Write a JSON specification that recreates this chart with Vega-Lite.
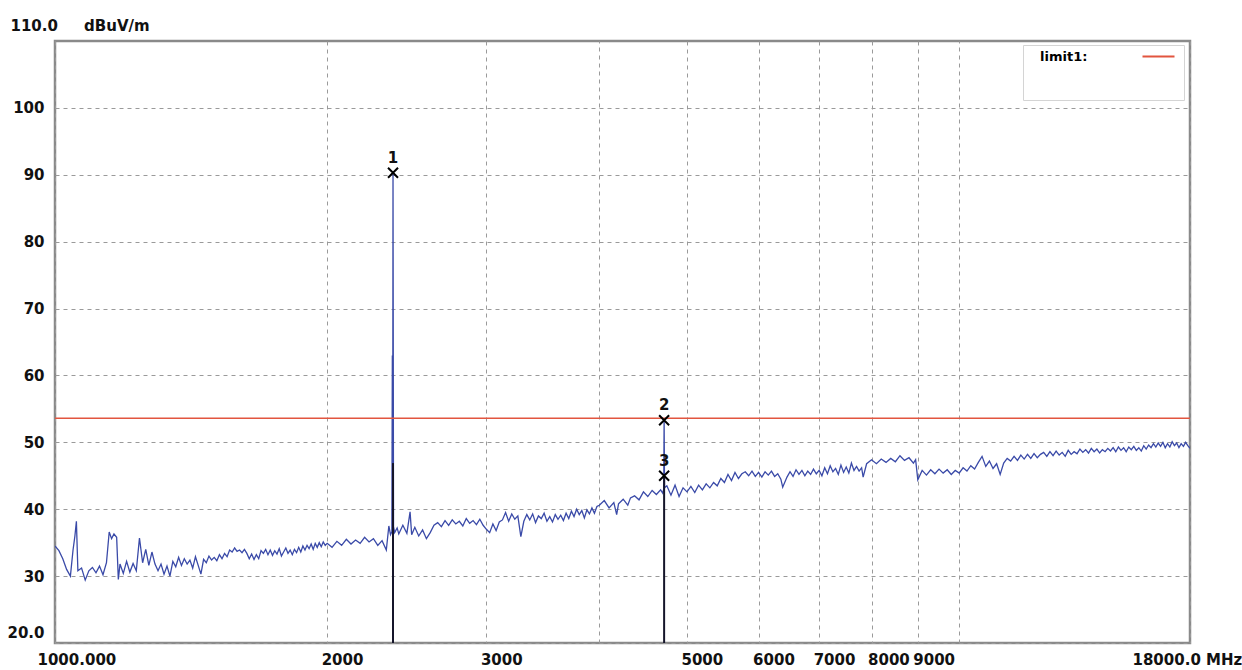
{
  "$schema": "https://vega.github.io/schema/vega-lite/v6.json",
  "width": 1135,
  "height": 602,
  "autosize": {"type": "none"},
  "padding": {"left": 55, "top": 41, "right": 52, "bottom": 27},
  "background": "#ffffff",
  "config": {
    "view": {"stroke": "#8a8a8a", "strokeWidth": 2.5},
    "font": "DejaVu Sans"
  },
  "datasets": {
    "trace": [
      {"f":1000,"v":34.5},{"f":1010,"v":33.8},{"f":1020,"v":32.6},{"f":1030,"v":31.0},{"f":1040,"v":30.0},{"f":1047,"v":33.9},{"f":1052,"v":36.0},{"f":1056,"v":38.2},{"f":1060,"v":30.8},{"f":1070,"v":31.2},{"f":1080,"v":29.4},{"f":1090,"v":30.8},{"f":1100,"v":31.3},
      {"f":1110,"v":30.5},{"f":1120,"v":31.5},{"f":1130,"v":30.2},{"f":1140,"v":32.0},{"f":1148,"v":36.6},{"f":1155,"v":35.6},{"f":1162,"v":36.3},{"f":1170,"v":35.8},{"f":1175,"v":29.5},{"f":1180,"v":31.8},{"f":1190,"v":30.4},{"f":1200,"v":32.2},
      {"f":1210,"v":30.6},{"f":1220,"v":31.9},{"f":1230,"v":30.8},{"f":1240,"v":35.7},{"f":1250,"v":32.0},{"f":1260,"v":34.0},{"f":1270,"v":31.6},{"f":1280,"v":33.6},{"f":1290,"v":31.8},{"f":1300,"v":30.8},
      {"f":1310,"v":31.8},{"f":1320,"v":30.3},{"f":1330,"v":31.5},{"f":1340,"v":30.0},{"f":1350,"v":32.2},{"f":1360,"v":31.4},{"f":1370,"v":32.8},{"f":1380,"v":31.6},{"f":1390,"v":32.6},{"f":1400,"v":31.8},
      {"f":1410,"v":32.4},{"f":1420,"v":31.2},{"f":1430,"v":32.9},{"f":1440,"v":31.6},{"f":1450,"v":30.3},{"f":1460,"v":32.5},{"f":1470,"v":32.0},{"f":1480,"v":33.0},{"f":1490,"v":32.4},{"f":1500,"v":32.8},
      {"f":1510,"v":32.3},{"f":1520,"v":33.2},{"f":1530,"v":32.6},{"f":1540,"v":33.4},{"f":1550,"v":32.9},{"f":1560,"v":33.9},{"f":1570,"v":33.6},{"f":1580,"v":34.2},{"f":1590,"v":33.7},{"f":1600,"v":33.9},
      {"f":1610,"v":33.5},{"f":1620,"v":34.0},{"f":1630,"v":33.4},{"f":1640,"v":32.6},{"f":1650,"v":33.3},{"f":1660,"v":32.5},{"f":1670,"v":33.2},{"f":1680,"v":32.6},{"f":1690,"v":33.8},{"f":1700,"v":33.4},
      {"f":1710,"v":34.0},{"f":1720,"v":33.2},{"f":1730,"v":33.9},{"f":1740,"v":33.1},{"f":1750,"v":33.8},{"f":1760,"v":33.3},{"f":1770,"v":34.1},{"f":1780,"v":33.0},{"f":1790,"v":33.6},{"f":1800,"v":34.2},
      {"f":1810,"v":33.4},{"f":1820,"v":33.9},{"f":1830,"v":33.2},{"f":1840,"v":34.0},{"f":1850,"v":33.5},{"f":1860,"v":34.3},{"f":1870,"v":33.6},{"f":1880,"v":34.5},{"f":1890,"v":33.9},{"f":1900,"v":34.6},
      {"f":1910,"v":34.1},{"f":1920,"v":34.8},{"f":1930,"v":34.0},{"f":1940,"v":34.9},{"f":1950,"v":34.3},{"f":1960,"v":35.0},{"f":1970,"v":34.4},{"f":1980,"v":35.1},{"f":1990,"v":34.6},{"f":2000,"v":34.9},
      {"f":2025,"v":34.3},{"f":2050,"v":35.2},{"f":2075,"v":34.6},{"f":2100,"v":35.5},{"f":2125,"v":34.8},{"f":2150,"v":35.4},{"f":2175,"v":34.9},{"f":2200,"v":35.8},{"f":2225,"v":35.1},{"f":2250,"v":35.6},{"f":2275,"v":34.6},{"f":2300,"v":35.3},{"f":2325,"v":33.9},{"f":2340,"v":37.5},{"f":2350,"v":36.2},
      {"f":2358,"v":36.6},{"f":2361,"v":63.0},{"f":2363,"v":36.9},{"f":2365,"v":90.3},{"f":2368,"v":37.4},{"f":2375,"v":36.5},{"f":2390,"v":37.2},{"f":2400,"v":36.3},{"f":2425,"v":37.6},{"f":2450,"v":36.4},{"f":2470,"v":39.6},{"f":2480,"v":36.2},{"f":2500,"v":37.3},{"f":2525,"v":36.0},{"f":2550,"v":36.9},{"f":2575,"v":35.6},
      {"f":2600,"v":36.5},{"f":2625,"v":37.6},{"f":2650,"v":38.0},{"f":2675,"v":37.4},{"f":2700,"v":38.3},{"f":2725,"v":37.6},{"f":2750,"v":38.4},{"f":2775,"v":37.8},{"f":2800,"v":38.2},{"f":2825,"v":37.5},{"f":2850,"v":38.6},{"f":2875,"v":37.9},{"f":2900,"v":38.3},{"f":2925,"v":37.7},{"f":2950,"v":38.5},{"f":2975,"v":37.6},
      {"f":3000,"v":37.0},{"f":3025,"v":36.5},{"f":3050,"v":37.8},{"f":3075,"v":36.8},{"f":3100,"v":38.1},{"f":3125,"v":38.4},{"f":3150,"v":39.5},{"f":3175,"v":38.2},{"f":3200,"v":39.3},{"f":3225,"v":38.5},{"f":3250,"v":39.0},{"f":3275,"v":35.9},
      {"f":3300,"v":38.2},{"f":3325,"v":39.2},{"f":3350,"v":38.4},{"f":3375,"v":39.3},{"f":3400,"v":38.0},{"f":3425,"v":39.0},{"f":3450,"v":38.6},{"f":3475,"v":39.4},{"f":3500,"v":38.2},{"f":3525,"v":38.9},{"f":3550,"v":38.1},{"f":3575,"v":39.2},{"f":3600,"v":38.5},{"f":3625,"v":39.1},{"f":3650,"v":38.3},
      {"f":3675,"v":39.4},{"f":3700,"v":38.6},{"f":3725,"v":39.7},{"f":3750,"v":38.9},{"f":3775,"v":40.0},{"f":3800,"v":39.2},{"f":3825,"v":39.8},{"f":3850,"v":38.7},{"f":3875,"v":39.9},{"f":3900,"v":39.3},{"f":3925,"v":40.2},{"f":3950,"v":39.4},{"f":3975,"v":40.4},
      {"f":4000,"v":40.6},{"f":4050,"v":41.3},{"f":4100,"v":40.2},{"f":4150,"v":41.0},{"f":4180,"v":39.2},{"f":4200,"v":40.8},{"f":4250,"v":41.5},{"f":4300,"v":40.6},{"f":4330,"v":41.7},{"f":4375,"v":42.0},{"f":4425,"v":41.4},{"f":4475,"v":42.6},{"f":4525,"v":41.9},{"f":4575,"v":42.8},{"f":4625,"v":42.2},{"f":4675,"v":42.9},{"f":4700,"v":42.4},
      {"f":4712,"v":43.0},{"f":4717,"v":53.3},{"f":4722,"v":43.2},{"f":4750,"v":43.5},{"f":4800,"v":42.1},{"f":4850,"v":43.6},{"f":4900,"v":41.9},{"f":4950,"v":43.2},
      {"f":5000,"v":42.6},{"f":5050,"v":43.4},{"f":5100,"v":42.5},{"f":5150,"v":43.6},{"f":5200,"v":42.9},{"f":5250,"v":43.8},{"f":5300,"v":43.2},{"f":5350,"v":44.0},{"f":5400,"v":43.5},
      {"f":5450,"v":44.6},{"f":5500,"v":44.0},{"f":5550,"v":45.2},{"f":5600,"v":44.3},{"f":5650,"v":45.5},{"f":5700,"v":44.6},{"f":5750,"v":45.3},
      {"f":5800,"v":45.6},{"f":5850,"v":45.0},{"f":5900,"v":45.7},{"f":5950,"v":44.9},{"f":6000,"v":45.5},{"f":6050,"v":44.8},{"f":6100,"v":45.6},{"f":6150,"v":45.1},{"f":6200,"v":45.7},{"f":6250,"v":44.9},{"f":6300,"v":45.3},{"f":6350,"v":44.5},{"f":6380,"v":43.3},
      {"f":6450,"v":44.8},{"f":6500,"v":45.6},{"f":6550,"v":44.9},{"f":6600,"v":45.9},{"f":6650,"v":45.2},{"f":6700,"v":45.8},{"f":6750,"v":45.0},{"f":6800,"v":45.7},{"f":6850,"v":45.2},{"f":6900,"v":46.0},{"f":6950,"v":45.3},
      {"f":7000,"v":45.8},{"f":7050,"v":45.0},{"f":7100,"v":46.2},{"f":7150,"v":45.3},{"f":7200,"v":46.5},{"f":7250,"v":45.6},{"f":7300,"v":46.1},{"f":7350,"v":45.2},{"f":7400,"v":46.6},{"f":7450,"v":45.5},{"f":7500,"v":46.3},{"f":7550,"v":45.4},{"f":7600,"v":46.9},{"f":7650,"v":45.8},{"f":7700,"v":46.4},{"f":7750,"v":45.7},{"f":7800,"v":46.2},{"f":7830,"v":44.8},
      {"f":7900,"v":46.8},{"f":8000,"v":47.4},{"f":8100,"v":46.8},{"f":8200,"v":47.5},{"f":8300,"v":47.0},{"f":8400,"v":47.6},{"f":8500,"v":47.1},{"f":8600,"v":48.0},{"f":8700,"v":47.3},{"f":8800,"v":47.7},{"f":8900,"v":46.9},{"f":8950,"v":47.4},{"f":9000,"v":44.4},
      {"f":9100,"v":45.8},{"f":9200,"v":45.1},{"f":9300,"v":45.9},{"f":9400,"v":45.3},{"f":9500,"v":46.0},{"f":9600,"v":45.4},{"f":9700,"v":45.9},{"f":9800,"v":45.2},{"f":9900,"v":45.8},{"f":10000,"v":45.4},
      {"f":10100,"v":46.2},{"f":10200,"v":45.7},{"f":10300,"v":46.5},{"f":10400,"v":46.0},{"f":10500,"v":47.0},{"f":10600,"v":47.9},{"f":10700,"v":46.4},{"f":10800,"v":47.2},{"f":10900,"v":46.1},{"f":11000,"v":46.8},{"f":11100,"v":45.2},
      {"f":11200,"v":46.9},{"f":11300,"v":47.6},{"f":11400,"v":47.2},{"f":11500,"v":47.9},{"f":11600,"v":47.3},{"f":11700,"v":48.1},{"f":11800,"v":47.5},{"f":11900,"v":48.2},{"f":12000,"v":47.6},{"f":12100,"v":48.3},{"f":12200,"v":47.7},{"f":12300,"v":48.2},
      {"f":12400,"v":48.5},{"f":12500,"v":47.9},{"f":12600,"v":48.6},{"f":12700,"v":48.0},{"f":12800,"v":48.7},{"f":12900,"v":48.1},{"f":13000,"v":48.5},{"f":13100,"v":47.9},{"f":13200,"v":48.8},{"f":13300,"v":48.2},{"f":13400,"v":48.6},
      {"f":13500,"v":48.3},{"f":13600,"v":49.0},{"f":13700,"v":48.5},{"f":13800,"v":48.9},{"f":13900,"v":48.4},{"f":14000,"v":49.1},{"f":14100,"v":48.6},{"f":14200,"v":49.0},{"f":14300,"v":48.4},{"f":14400,"v":48.9},{"f":14500,"v":48.6},{"f":14600,"v":49.1},
      {"f":14700,"v":48.7},{"f":14800,"v":49.2},{"f":14900,"v":48.6},{"f":15000,"v":49.3},{"f":15100,"v":48.8},{"f":15200,"v":49.2},{"f":15300,"v":48.6},{"f":15400,"v":49.3},{"f":15500,"v":48.9},{"f":15600,"v":49.4},{"f":15700,"v":48.8},{"f":15800,"v":49.2},{"f":15900,"v":48.7},{"f":16000,"v":49.5},{"f":16100,"v":49.0},
      {"f":16200,"v":49.6},{"f":16300,"v":49.2},{"f":16400,"v":49.8},{"f":16500,"v":49.3},{"f":16600,"v":49.9},{"f":16700,"v":49.4},{"f":16800,"v":50.0},{"f":16900,"v":49.2},{"f":17000,"v":49.8},{"f":17100,"v":49.3},{"f":17200,"v":50.1},{"f":17300,"v":49.5},{"f":17400,"v":49.9},{"f":17500,"v":49.2},{"f":17600,"v":49.8},{"f":17700,"v":49.4},{"f":17800,"v":50.0},{"f":17900,"v":49.5},{"f":18000,"v":49.1}
    ],
    "rules": [
      {"f": 2365, "v": 46.9},
      {"f": 4717, "v": 45.0}
    ],
    "markers": [
      {"m": "1", "f": 2365, "v": 90.3},
      {"m": "2", "f": 4717, "v": 53.3},
      {"m": "3", "f": 4717, "v": 45.0}
    ],
    "limit": [
      {"name": "limit1:", "v": 53.6}
    ]
  },
  "resolve": {"axis": {"x": "independent"}},
  "layer": [
    {
      "data": {"name": "trace"},
      "mark": {"type": "line", "color": "#3a4aa8", "strokeWidth": 1.3, "clip": true},
      "encoding": {
        "x": {
          "field": "f", "type": "quantitative",
          "scale": {"type": "log", "domain": [1000, 18000], "nice": false},
          "axis": {
            "title": null, "orient": "bottom",
            "values": [1000, 2000, 3000, 5000, 6000, 7000, 8000, 9000, 18000],
            "labelExpr": "datum.value == 1000 ? '1000.000' : datum.value == 18000 ? '18000.0 MHz' : '' + datum.value",
            "grid": true, "gridColor": "#9a9a9a", "gridDash": [4, 4], "gridWidth": 1,
            "ticks": false, "domain": false,
            "labelFont": "DejaVu Sans", "labelFontWeight": "bold", "labelFontSize": 15, "labelColor": "#111111",
            "labelAlign": "left", "labelBaseline": "top", "labelPadding": 9,
            "labelOffset": {"condition": [
              {"test": "datum.value == 1000", "value": -18},
              {"test": "datum.value == 18000", "value": -58},
              {"test": "datum.value == 8000", "value": -4},
              {"test": "datum.value == 9000", "value": -5}
            ], "value": -6},
            "labelFlush": false, "labelOverlap": false, "labelBound": false
          }
        },
        "y": {
          "field": "v", "type": "quantitative",
          "scale": {"domain": [20, 110], "nice": false, "zero": false},
          "axis": {
            "title": "110.0\u00a0\u00a0\u00a0\u00a0\u00a0dBuV/m",
            "titleAngle": 0, "titleAlign": "left", "titleBaseline": "middle",
            "titleX": -45, "titleY": -16,
            "titleFont": "DejaVu Sans", "titleFontWeight": "bold", "titleFontSize": 15, "titleColor": "#111111",
            "values": [20, 30, 40, 50, 60, 70, 80, 90, 100],
            "labelExpr": "datum.value == 20 ? '20.0' : '' + datum.value",
            "grid": true, "gridColor": "#9a9a9a", "gridDash": [4, 4], "gridWidth": 1,
            "ticks": false, "domain": false,
            "labelFont": "DejaVu Sans", "labelFontWeight": "bold", "labelFontSize": 15, "labelColor": "#111111",
            "labelPadding": 11,
            "labelOffset": {"condition": {"test": "datum.value == 20", "value": -11}, "value": 0},
            "labelFlush": false, "labelOverlap": false
          }
        }
      }
    },
    {
      "data": {"name": "rules"},
      "mark": {"type": "rule", "color": "#15152a", "strokeWidth": 2},
      "encoding": {
        "x": {
          "field": "f", "type": "quantitative",
          "axis": {
            "title": null, "orient": "top",
            "values": [4000, 10000],
            "labels": false, "ticks": false, "domain": false,
            "grid": true, "gridColor": "#9a9a9a", "gridDash": [4, 4], "gridWidth": 1
          }
        },
        "y": {"field": "v", "type": "quantitative"},
        "y2": {"datum": 20}
      }
    },
    {
      "data": {"name": "limit"},
      "mark": {"type": "rule", "strokeWidth": 1.6},
      "encoding": {
        "y": {"field": "v", "type": "quantitative"},
        "color": {
          "field": "name", "type": "nominal",
          "scale": {"range": ["#e2553f"]},
          "legend": {
            "orient": "none", "legendX": 968, "legendY": 4,
            "title": null,
            "labelFont": "DejaVu Sans", "labelFontSize": 13, "labelFontWeight": "bold", "labelColor": "#000000",
            "labelOffset": -1,
            "symbolType": "M21.6,0L28,0M21.6,6.9L21.6,6.9", "symbolSize": 100, "symbolStrokeWidth": 2, "symbolStrokeColor": "#e2553f",
            "padding": 5, "strokeColor": "#d4d4d4", "fillColor": "#ffffff"
          }
        }
      }
    },
    {
      "data": {"name": "markers"},
      "mark": {"type": "point", "shape": "M-1,-1L1,1M-1,1L1,-1", "size": 100, "filled": false, "stroke": "#000000", "strokeWidth": 2, "opacity": 1},
      "encoding": {
        "x": {"field": "f", "type": "quantitative", "axis": null},
        "y": {"field": "v", "type": "quantitative"}
      }
    },
    {
      "data": {"name": "markers"},
      "mark": {"type": "text", "dy": -15, "font": "DejaVu Sans", "fontWeight": "bold", "fontSize": 15, "color": "#111111"},
      "encoding": {
        "x": {"field": "f", "type": "quantitative", "axis": null},
        "y": {"field": "v", "type": "quantitative"},
        "text": {"field": "m"}
      }
    }
  ]
}
